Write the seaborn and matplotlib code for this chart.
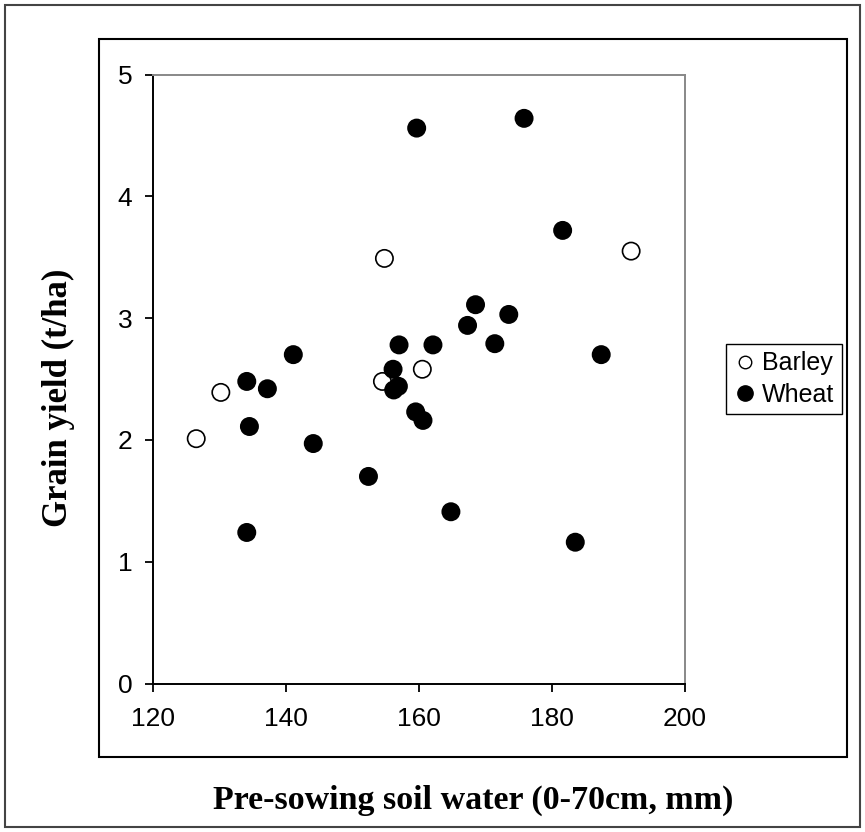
import pandas as pd
import seaborn as sns
import matplotlib.pyplot as plt
from matplotlib.lines import Line2D
from matplotlib.patches import Rectangle

# values
barley_x = [126.5, 130.2, 154.5, 154.8, 160.5, 191.9]
barley_y = [2.01, 2.39, 2.48, 3.49, 2.58, 3.55]

wheat_x = [134.1, 134.5, 134.1, 137.2, 141.1, 144.1, 152.4, 156.1, 156.2, 156.9, 157.0, 159.5,
           160.6, 162.1, 164.8, 167.3, 168.5, 171.4, 173.5, 159.65, 175.8, 181.6, 183.5, 187.4]
wheat_y = [2.48, 2.11, 1.24, 2.42, 2.70, 1.97, 1.70, 2.58, 2.41, 2.44, 2.78, 2.23,
           2.16, 2.78, 1.41, 2.94, 3.11, 2.79, 3.03, 4.56, 4.64, 3.72, 1.16, 2.70]

crops = ['Barley', 'Wheat']
xticks = [120, 140, 160, 180, 200]
yticks = [0, 1, 2, 3, 4, 5]

df = pd.DataFrame({
    'water': barley_x + wheat_x,
    'yield': barley_y + wheat_y,
    'crop': ['Barley'] * len(barley_x) + ['Wheat'] * len(wheat_x),
})

sns.set_style('white')
plt.rcParams['font.family'] = ['Liberation Sans', 'DejaVu Sans']
plt.rcParams['text.color'] = 'black'
plt.rcParams['xtick.color'] = 'black'
plt.rcParams['ytick.color'] = 'black'

W, H = 865, 832
fig = plt.figure(figsize=(W / 100, H / 100), dpi=100)
ax = fig.add_axes([153 / W, 1 - 683.5 / H, 532 / W, 609 / H])

sns.scatterplot(data=df, x='water', y='yield', hue='crop', hue_order=crops,
                palette={'Barley': 'white', 'Wheat': 'black'},
                edgecolor='black', linewidth=1.2, s=155, legend=False, ax=ax)

ax.set_xlim(120, 200)
ax.set_ylim(0, 5)
ax.set_xticks(xticks)
ax.set_yticks(yticks)
ax.set_xlabel('')
ax.set_ylabel('')
ax.tick_params(axis='both', direction='out', length=6, width=1.3, color='black',
               labelcolor='black', labelsize=19, bottom=True, left=True)
ax.tick_params(axis='x', pad=11)
ax.tick_params(axis='y', pad=9)
for side in ['left', 'bottom']:
    ax.spines[side].set_color('black')
    ax.spines[side].set_linewidth(1.4)
for side in ['top', 'right']:
    ax.spines[side].set_color('#888888')
    ax.spines[side].set_linewidth(1.4)

handles = [
    Line2D([], [], ls='', marker='o', ms=9, mfc='white', mec='black', mew=1.0),
    Line2D([], [], ls='', marker='o', ms=11, mfc='black', mec='black'),
]
leg = ax.legend(handles, crops, loc='center left', bbox_to_anchor=(726 / W, 1 - 379 / H),
                bbox_transform=fig.transFigure, borderaxespad=0, fontsize=18,
                frameon=True, fancybox=False, framealpha=1, handletextpad=0.25,
                handlelength=0.9, borderpad=0.3, labelspacing=0.3)
leg.get_frame().set_edgecolor('black')
leg.get_frame().set_linewidth(1.0)
for t in leg.get_texts():
    t.set_color('black')

fig.text(473 / W, 1 - 800 / H, 'Pre-sowing soil water (0-70cm, mm)', ha='center', va='center',
         fontsize=24.5, fontweight='bold', color='black', family=['Liberation Serif', 'DejaVu Serif'])
fig.text(58 / W, 1 - 398 / H, 'Grain yield (t/ha)', ha='center', va='center', rotation=90,
         fontsize=25, fontweight='bold', color='black', family=['Liberation Serif', 'DejaVu Serif'])

# chart-area box and outer frame
fig.patches.append(Rectangle((99 / W, 1 - 757 / H), 748 / W, 718 / H, transform=fig.transFigure,
                             fill=False, edgecolor='black', linewidth=1.5))
fig.patches.append(Rectangle((5 / W, 1 - 827 / H), 855 / W, 822 / H, transform=fig.transFigure,
                             fill=False, edgecolor='#444444', linewidth=1.5))

fig.savefig('out.png', dpi=100)
